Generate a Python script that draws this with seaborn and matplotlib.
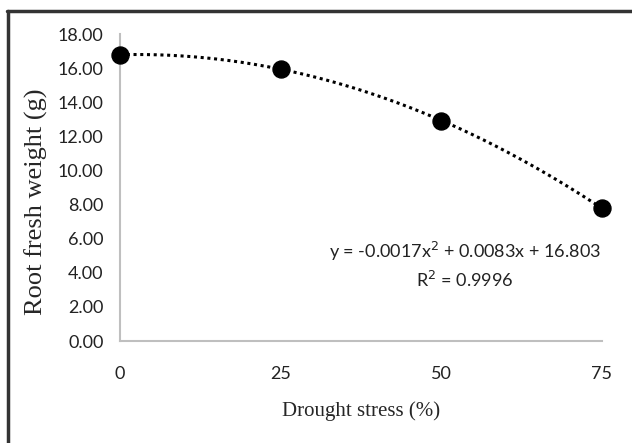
import matplotlib
matplotlib.use('Agg')
import matplotlib.pyplot as plt
from matplotlib.lines import Line2D
import seaborn as sns
import numpy as np
import pandas as pd

# data
drought = [0, 25, 50, 75]
root_weight = [16.78, 15.98, 12.90, 7.80]
y_ticks = [0, 2, 4, 6, 8, 10, 12, 14, 16, 18]
x_ticks = [0, 25, 50, 75]
equation = 'y = -0.0017x$^2$ + 0.0083x + 16.803\nR$^2$ = 0.9996'

df = pd.DataFrame({'Drought': drought, 'Weight': root_weight})

# quadratic trend line
coef = np.polyfit(df['Drought'], df['Weight'], 2)
xs = np.linspace(0, 75, 200)
trend = pd.DataFrame({'Drought': xs, 'Weight': np.polyval(coef, xs)})

sns.set_style('white')
fig = plt.figure(figsize=(6.32, 4.43), dpi=100)
ax = fig.add_axes([0.19, 0.23, 0.7625, 0.693])

sns.lineplot(data=trend, x='Drought', y='Weight', ax=ax, color='black',
             linestyle=(0, (1, 1.2)), linewidth=2.2)
sns.scatterplot(data=df, x='Drought', y='Weight', ax=ax, color='black',
                s=150, edgecolor='black', zorder=3, clip_on=False)

ax.set_xlim(0, 75)
ax.set_ylim(0, 18)
ax.set_xticks(x_ticks)
ax.set_yticks(y_ticks)
ax.set_yticklabels(['%.2f' % v for v in y_ticks], fontfamily='Lato', fontsize=13, color='#222222')
ax.set_xticklabels([str(v) for v in x_ticks], fontfamily='Lato', fontsize=13, color='#222222')
ax.tick_params(axis='both', length=0)
ax.tick_params(axis='x', pad=18)
ax.tick_params(axis='y', pad=12)

for side in ['top', 'right']:
    ax.spines[side].set_visible(False)
for side in ['left', 'bottom']:
    ax.spines[side].set_color('#bfbfbf')
    ax.spines[side].set_linewidth(1.5)

ax.set_xlabel('Drought stress (%)', fontfamily='Liberation Serif', fontsize=15, labelpad=14)
ax.set_ylabel('Root fresh weight (g)', fontfamily='Liberation Serif', fontsize=19)
ax.yaxis.set_label_coords(-0.15, 0.453)

ax.text(0.716, 0.249, equation, transform=ax.transAxes, ha='center', va='center',
        fontfamily='Lato', fontsize=13, linespacing=1.4, color='#222222')

# outer frame (top and left only, as in the cropped original)
fig.add_artist(Line2D([7 / 632, 1], [1 - 11 / 443, 1 - 11 / 443], transform=fig.transFigure,
                      color='#333333', linewidth=2.5))
fig.add_artist(Line2D([8 / 632, 8 / 632], [0, 1 - 11 / 443], transform=fig.transFigure,
                      color='#333333', linewidth=2.5))

fig.savefig('out.png', dpi=100)
